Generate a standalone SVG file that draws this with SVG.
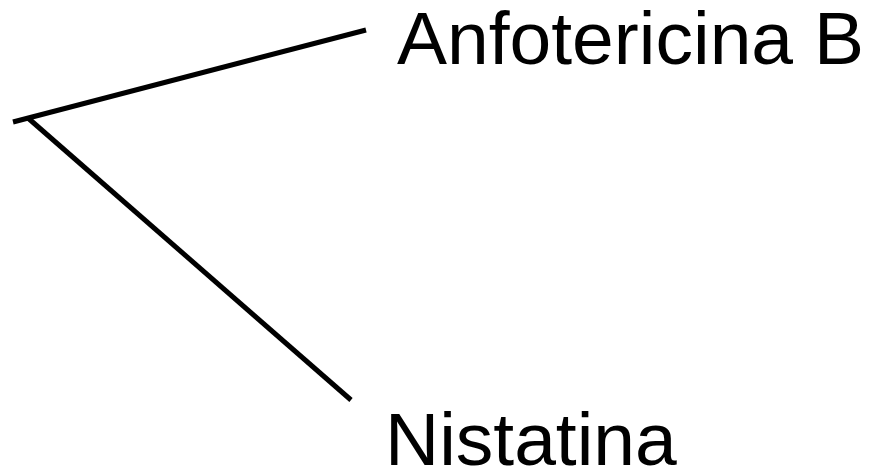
<svg xmlns="http://www.w3.org/2000/svg" width="869" height="469" viewBox="0 0 869 469">
<style>
.l{stroke:#000;stroke-width:5;fill:none}
.t{font-family:"Liberation Sans",Arial,sans-serif;font-size:75px;fill:#000}
</style>
<rect width="869" height="469" fill="#fff"/>
<g id="connectors">
<line class="l" x1="13" y1="122" x2="366" y2="30"/>
<line class="l" x1="28" y1="118" x2="351" y2="400"/>
</g>
<g id="anfotericina"><text class="t" x="397" y="64">Anfotericina B</text></g>
<g id="nistatina"><text class="t" x="385" y="465">Nistatina</text></g>
</svg>
